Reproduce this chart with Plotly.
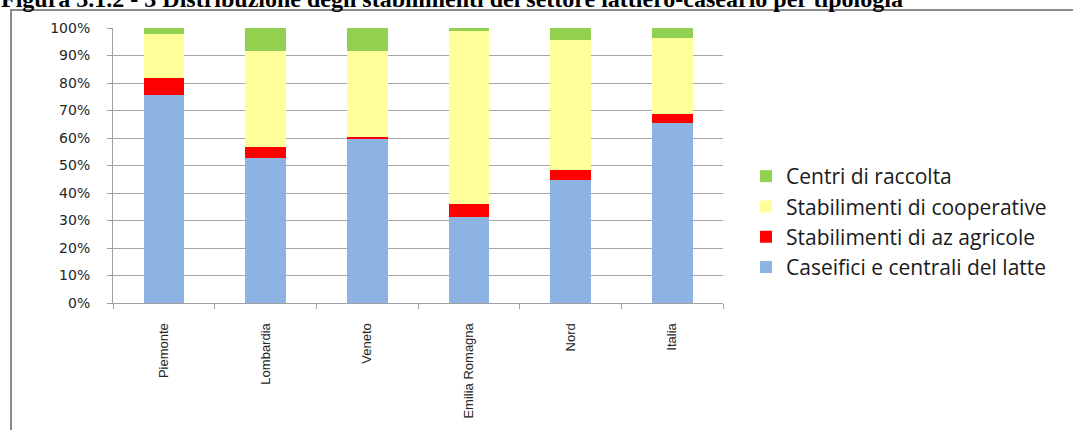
import plotly.graph_objects as go

categories = ["Piemonte", "Lombardia", "Veneto", "Emilia Romagna", "Nord", "Italia"]
caseifici = [75.5, 52.8, 59.6, 31.4, 44.8, 65.4]
az_agricole = [6.3, 4.1, 0.8, 4.6, 3.5, 3.4]
cooperative = [16.0, 34.7, 31.4, 63.0, 47.3, 27.4]
centri = [2.2, 8.4, 8.2, 1.0, 4.4, 3.8]
y_ticks = [0, 10, 20, 30, 40, 50, 60, 70, 80, 90, 100]
y_tick_labels = ["0%", "10%", "20%", "30%", "40%", "50%", "60%", "70%", "80%", "90%", "100%"]

series = [
    ("Caseifici e centrali del latte", caseifici, "#8DB3E2"),
    ("Stabilimenti di az agricole", az_agricole, "#FF0000"),
    ("Stabilimenti di cooperative", cooperative, "#FFFF99"),
    ("Centri di raccolta", centri, "#92D050"),
]

fig = go.Figure()
for i, (name, vals, col) in enumerate(series):
    fig.add_trace(go.Bar(x=categories, y=vals, name=name, marker_color=col,
                         marker_line_width=0, width=0.4, legendgroup=f"g{i}"))

W, H = 1073, 430
ml, mr, mt, mb = 113, 350, 28, 127
pw = W - ml - mr
ph = H - mt - mb

def px_x(p):
    return (p - ml) / pw

def px_y(p):
    return (H - mb - p) / ph

fig.update_layout(
    width=W, height=H,
    margin=dict(l=ml, r=mr, t=mt, b=mb, pad=0),
    barmode="stack",
    plot_bgcolor="white", paper_bgcolor="white",
    showlegend=True,
    legend=dict(traceorder="reversed", x=px_x(746), xanchor="left",
                y=px_y(222), yanchor="middle",
                font=dict(family="Open Sans", size=21, color="#1a1a1a"),
                tracegroupgap=7, itemwidth=30, bgcolor="rgba(0,0,0,0)"),
    xaxis=dict(type="category", tickangle=-90, tickson="boundaries",
               ticks="outside", ticklen=5, tickcolor="#a0a0a0",
               showline=True, linecolor="#a0a0a0", linewidth=1,
               showgrid=False, ticklabelstandoff=14,
               tickfont=dict(family="Liberation Sans", size=13, color="#262626")),
    yaxis=dict(range=[0, 100], tickvals=y_ticks, ticktext=y_tick_labels,
               ticks="outside", ticklen=5, tickcolor="#a0a0a0",
               showline=True, linecolor="#a0a0a0", linewidth=1,
               showgrid=True, gridcolor="#a6a6a6", gridwidth=1,
               ticklabelstandoff=14, zeroline=False,
               tickfont=dict(family="DejaVu Sans", size=14, color="#262626")),
)

# outer frame of the chart object
fig.add_shape(type="rect", xref="paper", yref="paper",
              x0=px_x(11), x1=px_x(1200), y0=px_y(600), y1=px_y(10),
              line=dict(color="#8a8a8a", width=2), layer="below")

fig.add_annotation(
    text="<b>Figura 3.1.2 - 3 Distribuzione degli stabilimenti del settore lattiero-caseario per tipologia</b>",
    xref="paper", yref="paper", x=px_x(-1), xanchor="left",
    y=px_y(14), yanchor="bottom", showarrow=False,
    font=dict(family="Liberation Serif", size=24, color="black"))

fig.write_html("out.html", config={"displayModeBar": False},
               post_script="document.body.style.margin='0';document.body.style.overflow='hidden';")
